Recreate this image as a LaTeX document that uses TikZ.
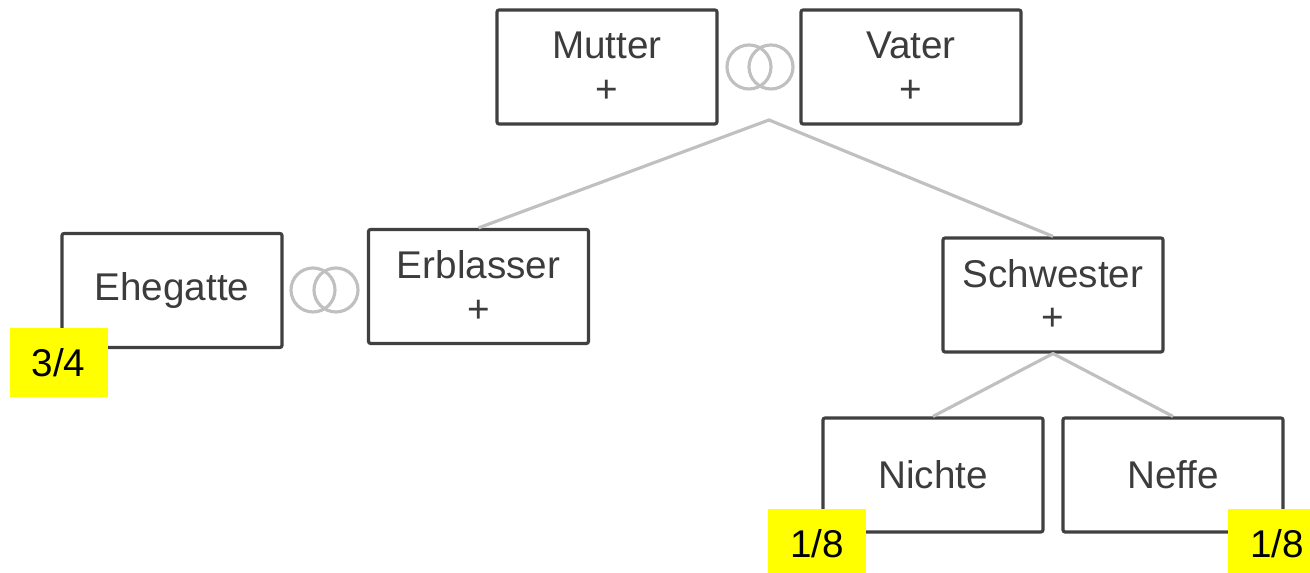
\documentclass[tikz,border=0pt]{standalone}
\usepackage{fontspec}
\setmainfont{Liberation Sans}
\definecolor{boxline}{HTML}{404040}
\definecolor{ringgray}{HTML}{C0C0C0}
\definecolor{textgray}{HTML}{3C3C3C}
\definecolor{sharefill}{HTML}{FFFF00}
\begin{document}
\begin{tikzpicture}[
    person/.style={draw=boxline, line width=0.9pt, rounded corners=0.6pt, minimum width=2.2cm, minimum height=1.14cm, align=center, text=textgray, inner sep=0pt, font=\fontsize{11}{12.5}\selectfont},
    ring/.style={draw=ringgray, line width=0.9pt, circle, minimum size=0.44cm, inner sep=0pt},
    link/.style={draw=ringgray, line width=0.9pt},
    share/.style={fill=sharefill, minimum width=0.98cm, minimum height=0.69cm, inner sep=0pt, font=\fontsize{11}{12}\selectfont}
]
    \clip (0,0) rectangle (13.10,5.73);

    % Eltern
    \node[person] (mutter) at (6.07, 5.06) {Mutter\\+};
    \node[person] (vater) at (9.11, 5.06) {Vater\\+};

    % Erblasser und Ehegatte
    \node[person] (ehegatte) at (1.72, 2.825) {Ehegatte};
    \node[person] (erblasser) at (4.785, 2.865) {Erblasser\\+};

    % Schwester mit Kindern
    \node[person] (schwester) at (10.53, 2.78) {Schwester\\+};
    \node[person] (nichte) at (9.33, 0.98) {Nichte};
    \node[person] (neffe) at (11.73, 0.98) {Neffe};

    % Ringe
    \foreach \x/\y/\n in {7.49/5.06/ringmva, 7.71/5.06/ringmvb, 3.13/2.83/ringeea, 3.36/2.83/ringeeb}
    {\node[ring] (\n) at (\x, \y) {};}

    % Linien
    \coordinate (eltern) at (7.69, 4.53);
    \draw[link] (erblasser.north) -- (eltern) -- (schwester.north);
    \draw[link] (nichte.north) -- (schwester.south) -- (neffe.north);

    % Anteile
    \node[share] (anteilehegatte) at (0.585, 2.105) {3/4};
    \node[share] (anteilnichte) at (8.17, 0.295) {1/8};
    \node[share] (anteilneffe) at (12.77, 0.295) {1/8};
\end{tikzpicture}
\end{document}
